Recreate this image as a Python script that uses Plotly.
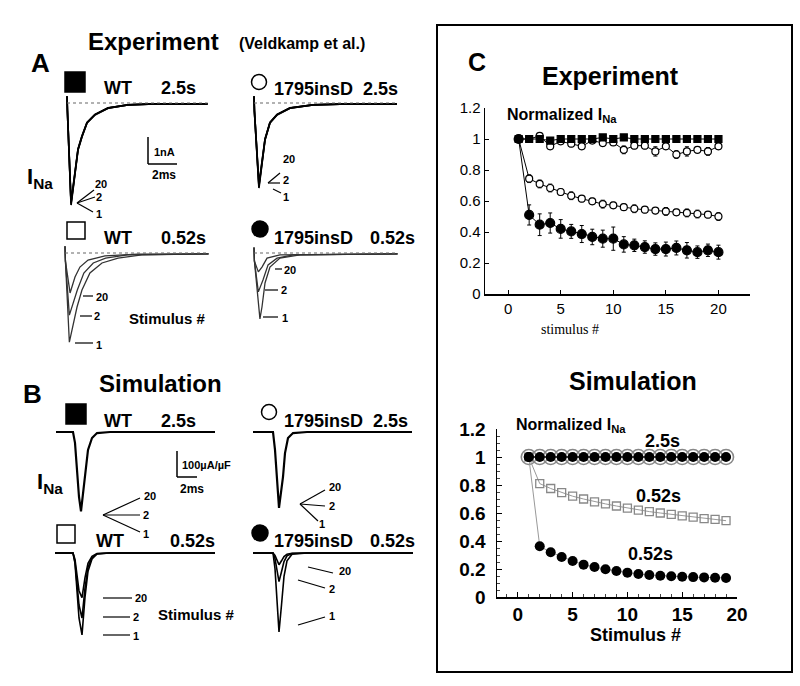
import plotly.graph_objects as go

# ====================== DATA ======================
# Panel A (experiment) current traces: time (ms) and I_Na (nA)
A_wt25_t   = [0, 0.03, 0.28, 0.55, 0.76, 1.03, 1.38, 1.93, 2.83, 4.2, 6.07, 9.7]
A_wt25_s1  = [0.25, -0.3, -3.78, -2.59, -1.74, -1.26, -0.74, -0.44, -0.19, -0.07, -0.03, -0.03]
A_wt25_s2  = [0.25, -0.3, -3.72, -2.55, -1.72, -1.24, -0.73, -0.43, -0.19, -0.07, -0.03, -0.03]
A_wt25_s20 = [0.25, -0.3, -3.68, -2.52, -1.70, -1.22, -0.72, -0.42, -0.18, -0.07, -0.03, -0.03]

A_ins25_t   = [0, 0.03, 0.34, 0.55, 0.76, 1.1, 1.59, 2.48, 4.07, 5.93, 9.86]
A_ins25_s1  = [0.25, -0.3, -3.15, -2.22, -1.37, -0.74, -0.44, -0.19, -0.07, -0.04, -0.04]
A_ins25_s2  = [0.25, -0.3, -3.08, -2.18, -1.35, -0.73, -0.43, -0.19, -0.07, -0.04, -0.04]
A_ins25_s20 = [0.25, -0.3, -3.02, -2.14, -1.33, -0.72, -0.42, -0.18, -0.07, -0.04, -0.04]

A_wt052_s1_t  = [0, 0.03, 0.3, 0.83, 1.17, 1.72, 2.55, 3.66, 5.3, 9.9]
A_wt052_s1    = [0.25, -0.3, -3.3, -2.0, -1.37, -0.74, -0.37, -0.19, -0.07, -0.03]
A_wt052_s2_t  = [0, 0.03, 0.3, 0.5, 0.85, 1.3, 1.95, 2.8, 4.3, 9.9]
A_wt052_s2    = [0.25, -0.3, -2.3, -1.95, -1.37, -0.74, -0.37, -0.19, -0.07, -0.03]
A_wt052_s20_t = [0, 0.03, 0.35, 0.69, 1.03, 1.59, 2.76, 5.0, 9.9]
A_wt052_s20   = [0.25, -0.3, -1.48, -0.89, -0.52, -0.26, -0.11, -0.04, -0.03]

A_ins052_s1_t  = [0, 0.03, 0.41, 0.55, 0.76, 1.1, 1.79, 3.17, 9.9]
A_ins052_s1    = [0.2, -0.3, -2.44, -2.0, -1.11, -0.52, -0.19, -0.07, -0.03]
A_ins052_s2_t  = [0, 0.03, 0.3, 0.62, 0.97, 1.59, 2.69, 9.9]
A_ins052_s2    = [0.2, -0.3, -1.44, -1.0, -0.44, -0.19, -0.07, -0.03]
A_ins052_s20_t = [0, 0.03, 0.3, 0.55, 0.9, 1.79, 9.9]
A_ins052_s20   = [0.2, -0.3, -0.7, -0.52, -0.19, -0.07, -0.03]

# Panel B (simulation) current traces: time (ms) and I_Na (uA/uF)
B_wt25_t  = [-1.7, 0, 0.2, 0.4, 0.6, 0.8, 1.2, 1.5, 1.9, 2.4, 3.7, 14.2]
B_wt25    = [0, 0, -42, -146, -250, -305, -173, -69, -23, -4, 0, 0]
B_ins25_t = [-2.0, 0, 0.2, 0.4, 0.6, 1.0, 1.2, 1.5, 2.0, 3.4, 13.9]
B_ins25   = [0, 0, -69, -173, -292, -173, -81, -23, -4, 0, 0]

B_wt052_t   = [-1.8, 0, 0.2, 0.4, 0.6, 0.9, 1.2, 1.5, 1.9, 2.4, 3.7, 14.2]
B_wt052_s1  = [0, 0, -40, -140, -250, -315, -170, -70, -23, -4, 0, 0]
B_wt052_s2  = [0, 0, -35, -115, -200, -250, -135, -55, -18, -3, 0, 0]
B_wt052_s20 = [0, 0, -25, -85, -145, -172, -95, -40, -13, -2, 0, 0]

B_ins052_t   = [-2.0, 0, 0.2, 0.4, 0.6, 0.85, 1.1, 1.4, 1.9, 3.4, 14.0]
B_ins052_s1  = [0, 0, -60, -170, -304, -200, -90, -30, -5, 0, 0]
B_ins052_s2  = [0, 0, -22, -62, -110, -72, -33, -11, -2, 0, 0]
B_ins052_s20 = [0, 0, -9, -26, -45, -30, -14, -5, -1, 0, 0]

# Panel C, experiment: normalized I_Na vs stimulus #
stim_exp = [1, 2, 3, 4, 5, 6, 7, 8, 9, 10, 11, 12, 13, 14, 15, 16, 17, 18, 19, 20]
exp_wt_25      = [1.00, 1.00, 1.00, 0.99, 1.00, 1.00, 1.00, 1.00, 1.01, 1.00, 1.01, 1.00, 1.00, 1.00, 1.00, 1.00, 1.00, 1.00, 1.00, 1.00]
exp_wt_25_err  = [0.0, 0.01, 0.015, 0.015, 0.01, 0.015, 0.015, 0.01, 0.015, 0.015, 0.015, 0.01, 0.015, 0.01, 0.015, 0.01, 0.01, 0.015, 0.01, 0.01]
exp_ins_25     = [1.00, 1.00, 1.02, 0.953, 0.985, 0.97, 0.953, 0.99, 0.974, 0.978, 0.93, 0.957, 0.957, 0.92, 0.953, 0.90, 0.92, 0.93, 0.92, 0.953]
exp_ins_25_err = [0.0, 0.01, 0.015, 0.02, 0.015, 0.02, 0.02, 0.015, 0.02, 0.02, 0.025, 0.02, 0.02, 0.03, 0.02, 0.025, 0.03, 0.02, 0.025, 0.02]
exp_wt_052     = [1.00, 0.744, 0.71, 0.684, 0.658, 0.634, 0.615, 0.598, 0.58, 0.572, 0.56, 0.55, 0.544, 0.538, 0.533, 0.527, 0.523, 0.516, 0.512, 0.50]
exp_wt_052_err = [0.0, 0.025, 0.025, 0.025, 0.02, 0.025, 0.02, 0.02, 0.025, 0.02, 0.02, 0.025, 0.02, 0.02, 0.025, 0.02, 0.025, 0.025, 0.02, 0.025]
exp_ins_052     = [1.00, 0.51, 0.447, 0.458, 0.42, 0.404, 0.387, 0.368, 0.357, 0.357, 0.32, 0.314, 0.303, 0.29, 0.29, 0.297, 0.282, 0.27, 0.282, 0.27]
exp_ins_052_err = [0.0, 0.065, 0.07, 0.065, 0.06, 0.045, 0.055, 0.05, 0.055, 0.075, 0.05, 0.04, 0.04, 0.04, 0.045, 0.045, 0.05, 0.04, 0.04, 0.045]

# Panel C, simulation
stim_sim = [1, 2, 3, 4, 5, 6, 7, 8, 9, 10, 11, 12, 13, 14, 15, 16, 17, 18, 19]
sim_wt_25   = [1.0, 1.0, 1.0, 1.0, 1.0, 1.0, 1.0, 1.0, 1.0, 1.0, 1.0, 1.0, 1.0, 1.0, 1.0, 1.0, 1.0, 1.0, 1.0]
sim_ins_25  = [1.0, 1.0, 1.0, 1.0, 1.0, 1.0, 1.0, 1.0, 1.0, 1.0, 1.0, 1.0, 1.0, 1.0, 1.0, 1.0, 1.0, 1.0, 1.0]
sim_wt_052  = [1.0, 0.81, 0.775, 0.745, 0.72, 0.70, 0.68, 0.665, 0.65, 0.635, 0.62, 0.61, 0.60, 0.59, 0.58, 0.57, 0.56, 0.555, 0.545]
sim_ins_052 = [1.0, 0.362, 0.32, 0.286, 0.257, 0.231, 0.214, 0.198, 0.186, 0.174, 0.164, 0.157, 0.152, 0.148, 0.145, 0.142, 0.14, 0.138, 0.136]

y_ticks = [0, 0.2, 0.4, 0.6, 0.8, 1.0, 1.2]
y_ticktext = ["0", "0.2", "0.4", "0.6", "0.8", "1", "1.2"]
x_ticks = [0, 5, 10, 15, 20]

# ====================== FIGURE ======================
W, H = 800, 686
FONT = "Liberation Sans, Arial, sans-serif"
fig = go.Figure()
layout = {}
shapes = []
annotations = []
count = [0]


def px(x):
    return x / W


def py(y):
    return 1 - y / H


def new_axes(ox, oy, sx, sy, xr, yr):
    """Create an axis pair placed so that data origin sits at pixel (ox, oy)."""
    count[0] += 1
    n = count[0]
    sfx = "" if n == 1 else str(n)
    left, right = ox + xr[0] * sx, ox + xr[1] * sx
    top, bottom = oy - yr[1] * sy, oy - yr[0] * sy
    layout["xaxis" + sfx] = dict(domain=[px(left), px(right)], range=xr, visible=False,
                                 anchor="y" + sfx, fixedrange=True)
    layout["yaxis" + sfx] = dict(domain=[py(bottom), py(top)], range=yr, visible=False,
                                 anchor="x" + sfx, fixedrange=True)
    return "x" + sfx, "y" + sfx


def add_line(xa, ya, t, v, width=1.6, color="black"):
    fig.add_trace(go.Scatter(x=t, y=v, xaxis=xa, yaxis=ya, mode="lines",
                             line=dict(color=color, width=width), hoverinfo="skip"))


def zero_dash(xa, ya, t0, t1):
    shapes.append(dict(type="line", xref=xa, yref=ya, x0=t0, x1=t1, y0=0, y1=0,
                       line=dict(color="#666", width=1.2, dash="dot")))


# ---- Panel A: 14.5 px/ms, 27 px/nA
AX = (-0.3, 10.2)
AY = (-4.0, 0.5)
xa, ya = new_axes(67, 103, 14.5, 27, AX, AY)
zero_dash(xa, ya, 0, 9.7)
for s in (A_wt25_s1, A_wt25_s2, A_wt25_s20):
    add_line(xa, ya, A_wt25_t, s, 1.7)

xa, ya = new_axes(254, 103, 14.5, 27, AX, AY)
zero_dash(xa, ya, 0, 9.8)
for s in (A_ins25_s1, A_ins25_s2, A_ins25_s20):
    add_line(xa, ya, A_ins25_t, s, 1.7)

xa, ya = new_axes(65, 253, 14.5, 27, AX, AY)
zero_dash(xa, ya, 0, 9.9)
add_line(xa, ya, A_wt052_s1_t, A_wt052_s1, 1.3, "#333")
add_line(xa, ya, A_wt052_s2_t, A_wt052_s2, 1.3, "#333")
add_line(xa, ya, A_wt052_s20_t, A_wt052_s20, 1.3, "#333")

xa, ya = new_axes(254, 253, 14.5, 27, AX, AY)
zero_dash(xa, ya, 0, 9.9)
add_line(xa, ya, A_ins052_s1_t, A_ins052_s1, 1.3, "#333")
add_line(xa, ya, A_ins052_s2_t, A_ins052_s2, 1.3, "#333")
add_line(xa, ya, A_ins052_s20_t, A_ins052_s20, 1.3, "#333")

# ---- Panel B: 10 px/ms, 0.26 px per uA/uF
BX = (-2.3, 14.6)
BY = (-340, 30)
xa, ya = new_axes(73, 432, 10, 0.26, BX, BY)
add_line(xa, ya, B_wt25_t, B_wt25, 2.2)
xa, ya = new_axes(273, 432, 10, 0.26, BX, BY)
add_line(xa, ya, B_ins25_t, B_ins25, 2.2)
xa, ya = new_axes(73, 553, 10, 0.26, BX, BY)
for s in (B_wt052_s1, B_wt052_s2, B_wt052_s20):
    add_line(xa, ya, B_wt052_t, s, 1.6)
xa, ya = new_axes(273, 553, 10, 0.26, BX, BY)
for s in (B_ins052_s1, B_ins052_s2, B_ins052_s20):
    add_line(xa, ya, B_ins052_t, s, 1.6)

# ---- Panel C top (experiment)
count[0] += 1
n = count[0]
layout[f"xaxis{n}"] = dict(domain=[px(485), px(750)], range=[-2.2, 23.0], anchor=f"y{n}",
                           tickvals=x_ticks, ticks="inside", ticklen=4, tickcolor="black",
                           showline=True, linecolor="black", linewidth=1.5, showgrid=False,
                           zeroline=False, tickfont=dict(family=FONT, size=15, color="black"),
                           fixedrange=True)
layout[f"yaxis{n}"] = dict(domain=[py(294), py(108)], range=[0, 1.2], anchor=f"x{n}",
                           tickvals=y_ticks, ticktext=y_ticktext, ticks="inside", ticklen=4,
                           tickcolor="black", showline=True, linecolor="black", linewidth=1.5,
                           showgrid=False, zeroline=False,
                           tickfont=dict(family=FONT, size=15, color="black"), fixedrange=True)
xt, yt = f"x{n}", f"y{n}"


def exp_series(y, err, symbol, size, fill):
    fig.add_trace(go.Scatter(
        x=stim_exp, y=y, xaxis=xt, yaxis=yt, mode="lines+markers",
        line=dict(color="black", width=1),
        marker=dict(symbol=symbol, size=size, color=fill, line=dict(color="black", width=1.2)),
        error_y=dict(type="data", array=err, color="black", thickness=1, width=2),
        cliponaxis=False, hoverinfo="skip"))


exp_series(exp_ins_052, exp_ins_052_err, "circle", 9, "black")
exp_series(exp_wt_052, exp_wt_052_err, "circle", 7, "white")
exp_series(exp_ins_25, exp_ins_25_err, "circle", 7, "white")
exp_series(exp_wt_25, exp_wt_25_err, "square", 7, "black")

# ---- Panel C bottom (simulation)
count[0] += 1
n = count[0]
bold_tick = dict(family=FONT, size=19, color="black", weight="bold")
layout[f"xaxis{n}"] = dict(domain=[px(497), px(737)], range=[-1.9, 20.0], anchor=f"y{n}",
                           tickvals=x_ticks, ticks="inside", ticklen=5, tickcolor="black",
                           minor=dict(ticks="inside", dtick=1, ticklen=3, tickcolor="#444"),
                           showline=True, linecolor="black", linewidth=1.5, showgrid=False,
                           zeroline=False, tickfont=bold_tick, fixedrange=True)
layout[f"yaxis{n}"] = dict(domain=[py(597), py(429)], range=[0, 1.2], anchor=f"x{n}",
                           tickvals=y_ticks, ticktext=y_ticktext, ticks="inside", ticklen=5,
                           tickcolor="black",
                           minor=dict(ticks="inside", dtick=0.05, ticklen=3, tickcolor="#444"),
                           showline=True, linecolor="black", linewidth=1.5, showgrid=False,
                           zeroline=False, tickfont=bold_tick, ticklabelstandoff=6,
                           fixedrange=True)
xs, ys = f"x{n}", f"y{n}"

fig.add_trace(go.Scatter(x=stim_sim, y=sim_ins_25, xaxis=xs, yaxis=ys, mode="markers",
                         marker=dict(symbol="circle", size=15, color="rgba(0,0,0,0)",
                                     line=dict(color="#888", width=1.6)),
                         cliponaxis=False, hoverinfo="skip"))
fig.add_trace(go.Scatter(x=stim_sim, y=sim_wt_052, xaxis=xs, yaxis=ys, mode="lines+markers",
                         line=dict(color="#999", width=1),
                         marker=dict(symbol="square-open", size=8, color="#888",
                                     line=dict(color="#888", width=1.3)),
                         cliponaxis=False, hoverinfo="skip"))
fig.add_trace(go.Scatter(x=stim_sim, y=sim_ins_052, xaxis=xs, yaxis=ys, mode="lines+markers",
                         line=dict(color="#999", width=1),
                         marker=dict(symbol="circle", size=10, color="black"),
                         cliponaxis=False, hoverinfo="skip"))
fig.add_trace(go.Scatter(x=stim_sim, y=sim_wt_25, xaxis=xs, yaxis=ys, mode="lines+markers",
                         line=dict(color="black", width=1.5),
                         marker=dict(symbol="circle", size=10, color="black"),
                         cliponaxis=False, hoverinfo="skip"))

# ====================== DECORATIONS ======================


def text(x, y, s, size, bold=True, xanchor="center", family=FONT):
    annotations.append(dict(x=px(x), y=py(y), xref="paper", yref="paper",
                            text=(f"<b>{s}</b>" if bold else s),
                            showarrow=False, xanchor=xanchor, yanchor="middle",
                            font=dict(family=family, size=size, color="black")))


def seg(x0, y0, x1, y1, w=1.2):
    shapes.append(dict(type="line", xref="paper", yref="paper", x0=px(x0), y0=py(y0),
                       x1=px(x1), y1=py(y1), line=dict(color="black", width=w)))


def rect(x0, y0, x1, y1, fill, w=1.5):
    shapes.append(dict(type="rect", xref="paper", yref="paper", x0=px(x0), y0=py(y0),
                       x1=px(x1), y1=py(y1), fillcolor=fill, line=dict(color="black", width=w)))


def circ(cx, cy, r, fill, w=1.5):
    shapes.append(dict(type="circle", xref="paper", yref="paper", x0=px(cx - r), y0=py(cy - r),
                       x1=px(cx + r), y1=py(cy + r), fillcolor=fill,
                       line=dict(color="black", width=w)))


# Panel A text
text(40, 63, "A", 26)
text(153, 42, "Experiment", 24)
text(302, 44, "(Veldkamp et al.)", 16)
rect(65, 72, 85, 92, "black")
text(118, 88, "WT", 18)
text(178, 88, "2.5s", 18)
circ(259, 82, 7.5, "white")
text(272, 89, "1795insD  2.5s", 18, xanchor="left")
rect(67, 222, 85, 239, "white")
text(118, 238, "WT", 18)
text(183, 238, "0.52s", 18)
circ(260, 229, 8, "black")
text(272, 238, "1795insD", 18, xanchor="left")
text(392, 238, "0.52s", 18)
text(40, 178, "I<sub>Na</sub>", 22)
seg(148, 137, 148, 164, 1.5)
seg(148, 164, 177, 164, 1.5)
text(164, 152, "1nA", 11)
text(164, 175, "2ms", 12)
# stimulus labels A1
seg(77, 203, 94, 190); seg(77, 203, 95, 197); seg(77, 203, 93, 212)
text(101, 184, "20", 11); text(99, 197, "2", 11); text(99, 214, "1", 11)
# A2
seg(268, 183, 280, 173); seg(268, 183, 280, 183); seg(273, 189, 281, 193)
text(289, 159, "20", 11); text(286, 180, "2", 11); text(286, 197, "1", 11)
# A3
seg(83, 296, 93, 296); seg(80, 316, 92, 316); seg(75, 343, 93, 343)
text(102, 297, "20", 11); text(97, 316, "2", 11); text(99, 345, "1", 11)
text(167, 318, "Stimulus #", 15)
# A4
seg(275, 269, 282, 269); seg(265, 290, 278, 290); seg(263, 317, 278, 317)
text(290, 270, "20", 11); text(284, 290, "2", 11); text(285, 318, "1", 11)

# Panel B text
text(32, 394, "B", 26)
text(160, 383, "Simulation", 24)
rect(66, 404, 86, 424, "black")
text(118, 421, "WT", 18)
text(178, 421, "2.5s", 18)
circ(269, 412, 7.5, "white")
text(282, 421, "1795insD  2.5s", 18, xanchor="left")
text(50, 483, "I<sub>Na</sub>", 22)
seg(177, 451, 177, 477, 1.5)
seg(177, 477, 197, 477, 1.5)
text(180, 465, "100\u00b5A/\u00b5F", 11, xanchor="left")
text(192, 489, "2ms", 12)
seg(103, 515, 140, 498); seg(103, 515, 140, 515); seg(103, 515, 140, 532)
text(150, 496, "20", 11); text(146, 515, "2", 11); text(146, 534, "1", 11)
seg(300, 504, 325, 490); seg(300, 504, 325, 506); seg(300, 504, 318, 521)
text(335, 487, "20", 11); text(332, 506, "2", 11); text(322, 524, "1", 11)
rect(57, 525, 75, 543, "white")
text(110, 541, "WT", 18)
text(192, 541, "0.52s", 18)
circ(260, 533, 8, "black")
text(272, 541, "1795insD", 18, xanchor="left")
text(392, 541, "0.52s", 18)
seg(103, 598, 132, 598); seg(103, 617, 130, 617); seg(103, 635, 130, 635)
text(141, 598, "20", 11); text(136, 617, "2", 11); text(136, 636, "1", 11)
text(196, 614, "Stimulus #", 15)
seg(308, 567, 333, 573); seg(298, 580, 325, 588); seg(298, 625, 325, 617)
text(345, 571, "20", 11); text(332, 589, "2", 11); text(332, 616, "1", 11)

# Panel C text
rect(437, 25, 792, 672, "rgba(0,0,0,0)", 2)
text(477, 62, "C", 25)
text(610, 76, "Experiment", 25)
text(562, 116, "Normalized I<sub>Na</sub>", 16)
text(570, 329, "stimulus #", 14, bold=False, family="Liberation Serif, Times New Roman, serif")
text(633, 381, "Simulation", 25)
text(571, 425, "Normalized I<sub>Na</sub>", 16)
text(662, 441, "2.5s", 18)
text(658, 496, "0.52s", 18)
text(650, 554, "0.52s", 18)
text(635, 635, "Stimulus #", 18)

fig.update_layout(
    width=W, height=H, autosize=False,
    margin=dict(l=0, r=0, t=0, b=0, pad=0, autoexpand=False),
    paper_bgcolor="white", plot_bgcolor="rgba(0,0,0,0)",
    showlegend=False,
    font=dict(family=FONT, color="black"),
    **layout,
)
fig.layout.shapes = shapes
fig.layout.annotations = annotations

fig.write_html("out.html",
               config={"displayModeBar": False, "staticPlot": True},
               post_script="document.body.style.margin='0';document.body.style.padding='0';"
                           "document.body.style.overflow='hidden';")
